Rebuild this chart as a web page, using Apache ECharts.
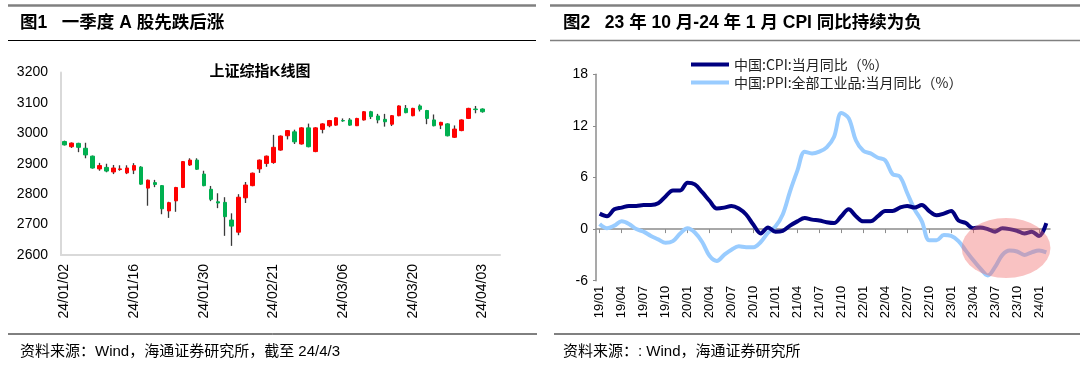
<!DOCTYPE html>
<html><head><meta charset="utf-8">
<script src="https://cdn.jsdelivr.net/npm/echarts@6/dist/echarts.min.js"></script>
<style>html,body{margin:0;padding:0;background:#fff}#c{width:1080px;height:366px}</style>
</head><body><div id="c"></div>
<script>
// ---------- Left: 上证综指 K 线 ----------
const kDates = ['24/01/02','24/01/03','24/01/04','24/01/05','24/01/08','24/01/09','24/01/10','24/01/11','24/01/12','24/01/15',
'24/01/16','24/01/17','24/01/18','24/01/19','24/01/22','24/01/23','24/01/24','24/01/25','24/01/26','24/01/29',
'24/01/30','24/01/31','24/02/01','24/02/02','24/02/05','24/02/06','24/02/07','24/02/08','24/02/19','24/02/20',
'24/02/21','24/02/22','24/02/23','24/02/26','24/02/27','24/02/28','24/02/29','24/03/01','24/03/04','24/03/05',
'24/03/06','24/03/07','24/03/08','24/03/11','24/03/12','24/03/13','24/03/14','24/03/15','24/03/18','24/03/19',
'24/03/20','24/03/21','24/03/22','24/03/25','24/03/26','24/03/27','24/03/28','24/03/29','24/04/01','24/04/02',
'24/04/03'];
const kPadCats = ['', ''];
const kOpen  = [2973,2956,2967,2951,2925,2883,2888,2873,2881,2870, 2879,2889,2820,2838,2828,2745,2778,2822,2896,2912,
                2866,2816,2775,2773,2715,2675,2788,2828,2883,2901, 2904,2945,2992,3005,2965,3018,2940,3013,3025,3027,
                3042,3044,3025,3044,3071,3057,3046,3030,3058,3082, 3058,3090,3075,3044,3027,3031,2987,3009,3049,3080,
                3080];
const kClose = [2962,2968,2954,2929,2886,2894,2876,2886,2883,2886, 2894,2833,2846,2832,2752,2772,2822,2907,2912,2882,
                2828,2783,2771,2726,2695,2790,2830,2869,2912,2925, 2954,2991,3009,2972,3018,2956,3018,3031,3042,3051,
                3041,3027,3049,3071,3055,3044,3038,3058,3090,3068, 3082,3079,3049,3025,3036,2992,3014,3044,3082,3078,
                3071];
const kLow   = [2960,2952,2938,2918,2884,2877,2872,2866,2877,2866, 2866,2831,2762,2823,2734,2722,2742,2820,2893,2880,
                2826,2777,2754,2663,2630,2665,2771,2826,2870,2890, 2900,2943,2980,2965,2963,2954,2938,3000,3020,3025,
                3038,3025,3024,3042,3047,3033,3022,3024,3056,3066, 3056,3072,3030,3023,3014,2990,2985,3007,3047,3066,
                3068];
const kHigh  = [2976,2970,2969,2969,2927,2903,2900,2896,2895,2895, 2902,2892,2848,2847,2830,2775,2824,2909,2918,2918,
                2877,2827,2803,2790,2737,2800,2840,2871,2914,2927, 2995,2993,3011,3012,3020,3032,3020,3033,3044,3053,
                3049,3050,3051,3073,3074,3064,3064,3060,3092,3093, 3084,3095,3077,3062,3038,3033,3026,3046,3084,3090,
                3082];
const kYMin = 2600, kYMax = 3200, kYStep = 100;

// ---------- Right: CPI / PPI ----------
const macroMonths = ['19/01','19/02','19/03','19/04','19/05','19/06','19/07','19/08','19/09','19/10','19/11','19/12',
'20/01','20/02','20/03','20/04','20/05','20/06','20/07','20/08','20/09','20/10','20/11','20/12',
'21/01','21/02','21/03','21/04','21/05','21/06','21/07','21/08','21/09','21/10','21/11','21/12',
'22/01','22/02','22/03','22/04','22/05','22/06','22/07','22/08','22/09','22/10','22/11','22/12',
'23/01','23/02','23/03','23/04','23/05','23/06','23/07','23/08','23/09','23/10','23/11','23/12',
'24/01','24/02'];
const cpiYoY = [1.8,1.5,2.3,2.5,2.7,2.7,2.8,2.8,3.0,3.8,4.5,4.5,
                5.4,5.2,4.3,3.3,2.4,2.5,2.7,2.4,1.7,0.5,-0.5,0.2,
                -0.3,-0.2,0.4,0.9,1.3,1.1,1.0,0.8,0.7,1.5,2.3,1.5,
                0.9,0.9,1.5,2.1,2.1,2.5,2.7,2.5,2.8,2.1,1.6,1.8,
                2.1,1.0,0.7,0.1,0.2,0.0,-0.3,0.1,0.0,-0.2,-0.5,-0.3,
                -0.8,0.7];
const ppiYoY = [0.6,0.1,0.4,0.9,0.6,0.0,-0.3,-0.8,-1.2,-1.6,-1.4,-0.5,
                0.1,-0.4,-1.5,-3.1,-3.7,-3.0,-2.4,-2.0,-2.1,-2.1,-1.5,-0.4,
                0.3,1.7,4.4,6.8,9.0,8.8,9.0,9.5,10.7,13.5,12.9,10.3,
                9.1,8.8,8.3,8.0,6.4,6.1,4.2,2.3,0.9,-1.3,-1.3,-0.7,
                -0.8,-1.4,-2.5,-3.6,-4.6,-5.4,-4.4,-3.0,-2.5,-2.6,-3.0,-2.7,
                -2.5,-2.7];
const seriesNames = ['中国:CPI:当月同比（%）', '中国:PPI:全部工业品:当月同比（%）'];
const mYMin = -6, mYMax = 18, mYStep = 6;
// highlighted region (annotation): centre month range and value
const hlMonths = ['23/08', '23/09'];
const hlValue = -2.2;

const FONT = 'Arial, "Liberation Sans", "Noto Sans CJK SC", sans-serif';
const chart = echarts.init(document.getElementById('c'), null, {renderer: 'canvas'});

const wickData = kDates.map((d, i) => [kOpen[i], kClose[i], kLow[i], kHigh[i]]);
const bodyData = kDates.map((d, i) => [kOpen[i], kClose[i], Math.min(kOpen[i], kClose[i]), Math.max(kOpen[i], kClose[i])]);
const kCats = kDates.concat(kPadCats);

const hdrText = (id, x, y, txt, size, weight) => ({
  type: 'text', id, x, y, z: 50,
  style: {text: txt, fill: '#000', font: `${weight || 'normal'} ${size}px ${FONT}`, textVerticalAlign: 'middle'}
});
const hline = (id, x1, x2, y, color, w) => ({
  type: 'line', id, z: 50, shape: {x1, y1: y, x2, y2: y}, style: {stroke: color, lineWidth: w}
});

chart.setOption({
  animation: false,
  backgroundColor: '#fff',
  textStyle: {fontFamily: FONT},
  grid: [
    {left: 61, right: 580, top: 72.5, bottom: 111, containLabel: false},
    {left: 596, right: 30, top: 74.3, bottom: 85.3, containLabel: false}
  ],
  legend: {
    data: seriesNames, orient: 'vertical', left: 686, top: 52,
    icon: 'rect', itemWidth: 38, itemHeight: 4, itemGap: 3,
    textStyle: {fontSize: 14, color: '#222', fontFamily: '"Noto Sans CJK SC", Arial, sans-serif', lineHeight: 15}
  },
  xAxis: [
    {gridIndex: 0, type: 'category', data: kCats, boundaryGap: true,
     axisLine: {show: true, lineStyle: {color: '#D9D9D9', width: 2}},
     axisTick: {show: false},
     axisLabel: {interval: 9, rotate: 90, fontSize: 14, color: '#000', margin: 9}},
    {gridIndex: 1, type: 'category', data: macroMonths, boundaryGap: true,
     axisLine: {show: true, onZero: true, lineStyle: {color: '#8C8C8C', width: 1.5}},
     axisTick: {show: true, interval: 2, alignWithLabel: true, length: 4, lineStyle: {color: '#8C8C8C', width: 1}},
     axisLabel: {show: false}},
    {gridIndex: 1, type: 'category', data: macroMonths, boundaryGap: true, position: 'bottom',
     axisLine: {show: false, onZero: false}, axisTick: {show: false},
     axisLabel: {interval: 2, rotate: 90, fontSize: 13, color: '#000', margin: 5}}
  ],
  yAxis: [
    {gridIndex: 0, type: 'value', min: kYMin, max: kYMax, interval: kYStep,
     axisLine: {show: true, lineStyle: {color: '#D9D9D9', width: 2}}, axisTick: {show: false},
     splitLine: {show: false}, axisLabel: {fontSize: 14, color: '#000', margin: 13, formatter: v => String(v)}},
    {gridIndex: 1, type: 'value', min: mYMin, max: mYMax, interval: mYStep,
     axisLine: {show: true, lineStyle: {color: '#8C8C8C', width: 1.5}},
     axisTick: {show: true, length: 3, lineStyle: {color: '#8C8C8C'}},
     splitLine: {show: false}, axisLabel: {fontSize: 14, color: '#000', margin: 8}}
  ],
  series: [
    {type: 'candlestick', name: 'wick', xAxisIndex: 0, yAxisIndex: 0, data: wickData, barWidth: 1, z: 2,
     itemStyle: {color: '#3A3A3A', color0: '#3A3A3A', borderColor: '#3A3A3A', borderColor0: '#3A3A3A', borderWidth: 1.3}},
    {type: 'candlestick', name: 'body', xAxisIndex: 0, yAxisIndex: 0, data: bodyData, barWidth: 4, z: 3,
     itemStyle: {color: '#FF0000', color0: '#00B050', borderColor: '#FF0000', borderColor0: '#00B050', borderWidth: 1}},
    {type: 'line', name: seriesNames[0], xAxisIndex: 1, yAxisIndex: 1, data: cpiYoY, smooth: 0.35,
     symbol: 'none', color: '#000080', lineStyle: {width: 4, color: '#000080'}, z: 4},
    {type: 'line', name: seriesNames[1], xAxisIndex: 1, yAxisIndex: 1, data: ppiYoY, smooth: 0.35,
     symbol: 'none', color: '#99CCFF', lineStyle: {width: 4, color: '#99CCFF'}, z: 3}
  ],
  graphic: [
    hline('l-top', 8, 536, 5.5, '#808080', 2.5),
    hdrText('l-title', 20, 23, '图1   一季度 A 股先跌后涨', 17.5, 'bold'),
    hline('l-sub', 8, 536, 40.5, '#000', 1),
    hline('r-top', 550, 1080, 5.5, '#808080', 2.5),
    hdrText('r-title', 563, 23, '图2   23 年 10 月-24 年 1 月 CPI 同比持续为负', 17.5, 'bold'),
    hline('r-sub', 550, 1080, 40.5, '#808080', 1.5),
    hline('l-foot', 8, 537, 334, '#000', 1),
    hline('r-foot', 554, 1080, 334, '#808080', 2),
    hdrText('l-src', 20, 352, '资料来源：Wind，海通证券研究所，截至 24/4/3', 15, 'normal'),
    hdrText('r-src', 563, 352, '资料来源：: Wind，海通证券研究所', 15, 'normal'),
    {type: 'text', id: 'k-title', x: 260, y: 72, z: 50,
     style: {text: '上证综指K线图', fill: '#000', font: `bold 15px ${FONT}`, textAlign: 'center', textVerticalAlign: 'middle'}}
  ]
});

// pink highlight ellipse placed via the chart's own coordinate conversion
const pa = chart.convertToPixel({xAxisIndex: 1, yAxisIndex: 1}, [hlMonths[0], hlValue]);
const pb = chart.convertToPixel({xAxisIndex: 1, yAxisIndex: 1}, [hlMonths[1], hlValue]);
chart.setOption({
  graphic: [{
    type: 'circle', id: 'hl', z: 100,
    x: (pa[0] + pb[0]) / 2, y: pa[1], scaleX: 1.48, scaleY: 1,
    shape: {cx: 0, cy: 0, r: 30},
    style: {fill: 'rgba(240,110,110,0.42)'}
  }]
});
</script>
</body></html>
